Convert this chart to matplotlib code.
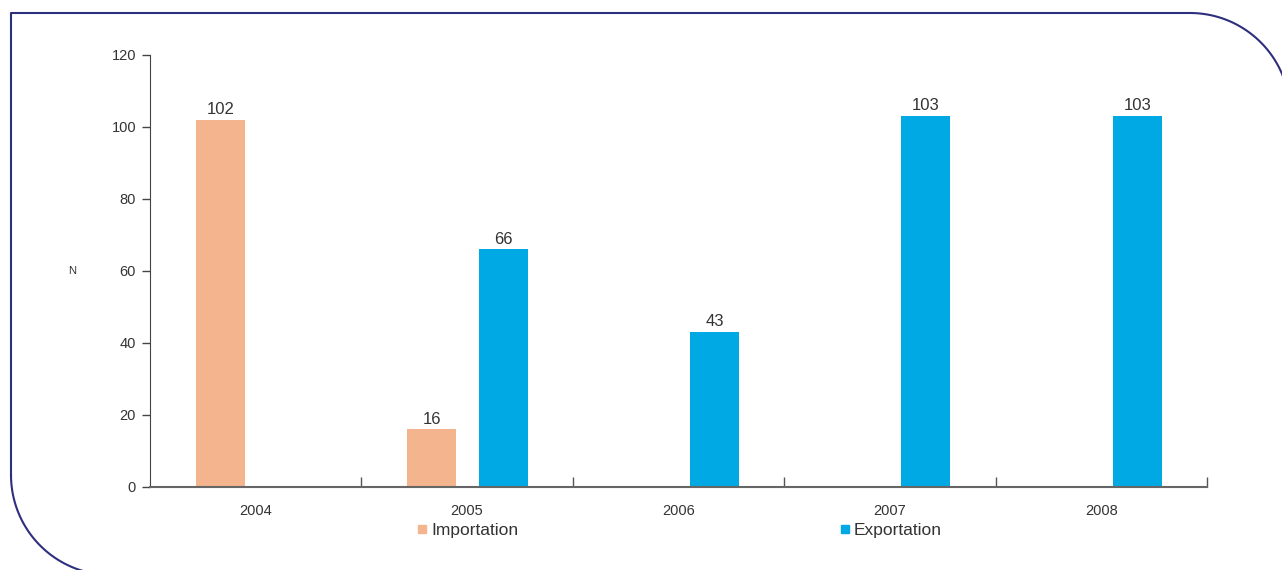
import numpy as np
import matplotlib
matplotlib.use('Agg')
import matplotlib.pyplot as plt
from matplotlib.lines import Line2D

years = ['2004', '2005', '2006', '2007', '2008']
importation = [102, 16, None, None, None]
exportation = [None, 66, 43, 103, 103]
y_ticks = [0, 20, 40, 60, 80, 100, 120]

imp_color = '#F4B48E'
exp_color = '#00A9E4'
frame_color = '#2E2F7C'
text_color = '#333333'

plt.rcParams['font.family'] = ['Liberation Sans', 'DejaVu Sans']

W, H = 1282, 570
fig = plt.figure(figsize=(W / 100, H / 100), dpi=100)


# outline frame with two rounded corners, in pixels from top-left
def px(x, y):
    return x / W, 1 - y / H


pts = []
# left edge, top edge, then the top-right arc
pts.append((11, 475))
pts.append((11, 13))
pts.append((1190, 13))
for a in np.linspace(90, 0, 40):
    t = np.radians(a)
    pts.append((1190 + 100 * np.cos(t), 113 - 100 * np.sin(t)))
xs, ys = zip(*[px(x, y) for x, y in pts])
fig.add_artist(Line2D(xs, ys, color=frame_color, lw=1.5, transform=fig.transFigure))
# bottom-left arc
pts = []
for a in np.linspace(180, 270, 40):
    t = np.radians(a)
    pts.append((111 + 100 * np.cos(t), 475 - 100 * np.sin(t)))
xs, ys = zip(*[px(x, y) for x, y in pts])
fig.add_artist(Line2D(xs, ys, color=frame_color, lw=1.5, transform=fig.transFigure))

ax = fig.add_axes([150 / W, 1 - 487 / H, (1207 - 150) / W, (487 - 55) / H])

pos = np.arange(len(years))
w = 0.232
for i in range(len(years)):
    if importation[i] is not None:
        ax.bar(pos[i] - 0.167, importation[i], w, color=imp_color)
        ax.annotate(str(importation[i]), (pos[i] - 0.167, importation[i]),
                    xytext=(0, 2), textcoords='offset points', ha='center', va='bottom',
                    fontsize=12, color=text_color)
    if exportation[i] is not None:
        ax.bar(pos[i] + 0.17, exportation[i], w, color=exp_color)
        ax.annotate(str(exportation[i]), (pos[i] + 0.17, exportation[i]),
                    xytext=(0, 2), textcoords='offset points', ha='center', va='bottom',
                    fontsize=12, color=text_color)

ax.set_xlim(-0.5, len(years) - 0.5)
ax.set_ylim(0, 120)
ax.set_yticks(y_ticks)
ax.tick_params(axis='y', direction='out', length=6, width=1, colors='#444444',
               labelsize=10.5, labelcolor=text_color, pad=4)

# category boundary ticks pointing up, labels at centers
ax.set_xticks(list(pos[1:] - 0.5) + [len(years) - 0.5])
ax.set_xticklabels([])
ax.tick_params(axis='x', which='major', direction='in', length=7, width=1, colors='#555555')
ax.set_xticks(pos, minor=True)
ax.set_xticklabels(years, minor=True)
ax.tick_params(axis='x', which='minor', length=0, labelsize=10.5, labelcolor=text_color, pad=12)

for s in ['top', 'right']:
    ax.spines[s].set_visible(False)
ax.spines['left'].set_color('#444444')
ax.spines['bottom'].set_color('#666666')
ax.spines['bottom'].set_linewidth(1.5)

fig.text(72 / W, 1 - 271 / H, 'N', fontsize=8, color=text_color, ha='center', va='center')

handles = [Line2D([], [], marker='s', ls='', color=imp_color, markersize=5.5),
           Line2D([], [], marker='s', ls='', color=exp_color, markersize=5.5)]
fig.legend(handles, ['Importation', 'Exportation'], ncol=2, frameon=False,
           loc='center left', bbox_to_anchor=(417 / W, 1 - 530 / H),
           fontsize=12.5, handlelength=0.55, handletextpad=0.25, columnspacing=18.55,
           labelcolor=text_color, borderaxespad=0, borderpad=0)

fig.savefig('out.png', dpi=100)
